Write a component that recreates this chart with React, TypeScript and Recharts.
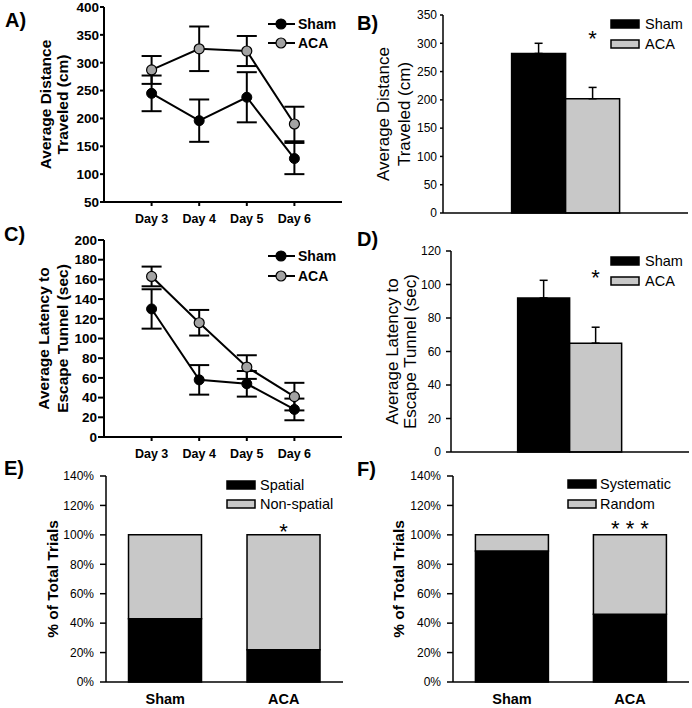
import React from "react";
import {
  LineChart,
  Line,
  BarChart,
  Bar,
  XAxis,
  YAxis,
  ErrorBar,
  Legend,
  Label,
  LabelList,
} from "recharts";

const FONT = "'Liberation Sans', Arial, sans-serif";
const GREY_BAR = "#c8c8c8";
const GREY_DOT = "#a3a3a3";

// days for the line panels
const days = [3, 4, 5, 6];
const dayLabels = ["Day 3", "Day 4", "Day 5", "Day 6"];

// A) distance per day
const distSham = [245, 196, 238, 128];
const distShamErr = [32, 38, 45, 28];
const distAca = [287, 325, 321, 190];
const distAcaErr = [25, 40, 27, 31];

// C) latency per day
const latSham = [130, 58, 54, 28];
const latShamErr = [20, 15, 13, 11];
const latAca = [163, 116, 71, 41];
const latAcaErr = [10, 13, 12, 14];

// B) / D) group means (upper error only)
const groups = ["Sham", "ACA"];
const distTotal = [282, 202];
const distTotalErr = [18, 20];
const latTotal = [92, 65];
const latTotalErr = [10.5, 9.5];

// E) / F) search strategy, % of trials
const spatial = [43, 22];
const nonSpatial = [57, 78];
const systematic = [89, 46];
const random = [11, 54];
const sigE = ["", "*"];
const sigF = ["", "* * *"];

const lineA = days.map((d, i) => ({
  day: d,
  sham: distSham[i],
  shamErr: distShamErr[i],
  aca: distAca[i],
  acaErr: distAcaErr[i],
}));
const lineC = days.map((d, i) => ({
  day: d,
  sham: latSham[i],
  shamErr: latShamErr[i],
  aca: latAca[i],
  acaErr: latAcaErr[i],
}));
const barB = [
  { g: "", sham: distTotal[0], shamErr: [0, distTotalErr[0]], aca: distTotal[1], acaErr: [0, distTotalErr[1]], sig: "*" },
];
const barD = [
  { g: "", sham: latTotal[0], shamErr: [0, latTotalErr[0]], aca: latTotal[1], acaErr: [0, latTotalErr[1]], sig: "*" },
];
const stackE = groups.map((g, i) => ({ g, low: spatial[i], high: nonSpatial[i], sig: sigE[i] }));
const stackF = groups.map((g, i) => ({ g, low: systematic[i], high: random[i], sig: sigF[i] }));

const range = (a: number, b: number, s: number) => {
  const out: number[] = [];
  for (let v = a; v <= b; v += s) out.push(v);
  return out;
};

const YTitle = ({ viewBox, lines, xs, size, bold }: any) => {
  const cy = viewBox.y + viewBox.height / 2;
  return (
    <g>
      {lines.map((t: string, i: number) => (
        <text
          key={i}
          x={xs[i]}
          y={cy}
          transform={`rotate(-90 ${xs[i]} ${cy})`}
          textAnchor="middle"
          dominantBaseline="central"
          fontSize={size}
          fontWeight={bold ? "bold" : "normal"}
          fontFamily={FONT}
          fill="#000"
        >
          {t}
        </text>
      ))}
    </g>
  );
};

const LineKey = ({ fills, step }: { fills: string[]; step: number }) => (
  <svg width={80} height={44} style={{ display: "block", overflow: "visible" }}>
    {groups.map((name, i) => {
      const y = 10 + i * step;
      return (
        <g key={name}>
          <line x1={2} x2={29} y1={y} y2={y} stroke="#000" strokeWidth={2} />
          <circle cx={15} cy={y} r={5} fill={fills[i]} stroke="#000" strokeWidth={1.2} />
          <text x={32} y={y} dominantBaseline="central" fontSize={14} fontWeight="bold" fontFamily={FONT}>
            {name}
          </text>
        </g>
      );
    })}
  </svg>
);

const BoxKey = ({ names, step, textX }: { names: string[]; step: number; textX: number }) => (
  <svg width={120} height={44} style={{ display: "block", overflow: "visible" }}>
    {names.map((name, i) => {
      const y = 10 + i * step;
      return (
        <g key={name}>
          <rect x={0} y={y - 4} width={28} height={8} fill={i === 0 ? "#000" : GREY_BAR} stroke="#000" strokeWidth={1.5} />
          <text x={textX} y={y} dominantBaseline="central" fontSize={14.5} fontFamily={FONT}>
            {name}
          </text>
        </g>
      );
    })}
  </svg>
);

const starFixed = (cy: number, size: number) => (p: any) => {
  if (!p.value) return null;
  return (
    <text x={p.x + p.width / 2} y={cy + size * 0.57} textAnchor="middle" fontSize={size} fontFamily={FONT} fill="#000">
      {p.value}
    </text>
  );
};

const starAbove = (gap: number, size: number) => (p: any) => {
  if (!p.value) return null;
  return (
    <text x={p.x + p.width / 2} y={p.y - gap + size * 0.57} textAnchor="middle" fontSize={size} fontFamily={FONT} fill="#000">
      {p.value}
    </text>
  );
};

function DayPanel({ data, height, domain, step, tickSize, lines, xs, top, legendTop, legendStep }: any) {
  const yTicks = range(domain[0], domain[1], step);
  return (
    <LineChart width={346} height={height} data={data} margin={{ top, right: 4, bottom: 0, left: 0 }}>
      <XAxis
        dataKey="day"
        type="number"
        domain={[2, 7]}
        ticks={days}
        interval={0}
        tickFormatter={(d: number) => dayLabels[days.indexOf(d)]}
        height={33}
        stroke="#000"
        strokeWidth={2}
        tickSize={4}
        tickMargin={8}
        tick={{ fill: "#000", fontSize: 12.5, fontWeight: "bold", fontFamily: FONT }}
      />
      <XAxis xAxisId="top" orientation="top" type="number" domain={[2, 7]} height={0} tick={false} tickLine={false} stroke="#000" strokeWidth={2} />
      <YAxis
        domain={domain}
        ticks={yTicks}
        interval={0}
        width={104}
        stroke="#000"
        strokeWidth={2}
        tickSize={tickSize}
        tickMargin={1}
        tick={{ fill: "#000", fontSize: 13.5, fontWeight: "bold", fontFamily: FONT }}
      >
        <Label content={(p: any) => <YTitle viewBox={p.viewBox} lines={lines} xs={xs} size={15.5} bold />} />
      </YAxis>
      <YAxis yAxisId="right" orientation="right" domain={[0, 1]} width={0} tick={false} tickLine={false} stroke="#000" strokeWidth={2} />
      <Legend
        layout="horizontal"
        verticalAlign="middle"
        align="center"
        wrapperStyle={{ top: legendTop, left: 266, width: 80, height: 44 }}
        content={() => <LineKey fills={["#000", GREY_DOT]} step={legendStep} />}
      />
      <Line dataKey="sham" stroke="#000" strokeWidth={2} dot={{ r: 5, fill: "#000", stroke: "#000", strokeWidth: 1 }} isAnimationActive={false}>
        <ErrorBar dataKey="shamErr" width={10} stroke="#000" strokeWidth={2} direction="y" />
      </Line>
      <Line dataKey="aca" stroke="#000" strokeWidth={2} dot={{ r: 5, fill: GREY_DOT, stroke: "#000", strokeWidth: 1.2 }} isAnimationActive={false}>
        <ErrorBar dataKey="acaErr" width={10} stroke="#000" strokeWidth={2} direction="y" />
      </Line>
    </LineChart>
  );
}

function MeanPanel({ data, domain, step, top, axisW, right, xh, tickSize, tickMargin, lines, xs, legendTop, starY }: any) {
  return (
    <BarChart width={346} height={235} data={data} margin={{ top, right, bottom: 0, left: 0 }} barCategoryGap="28%" barGap={0}>
      <XAxis dataKey="g" height={xh} tick={false} tickLine={false} stroke="#000" strokeWidth={1.5} />
      <XAxis xAxisId="top" dataKey="g" orientation="top" height={0} tick={false} tickLine={false} stroke="#000" strokeWidth={1.5} />
      <YAxis
        domain={domain}
        ticks={range(domain[0], domain[1], step)}
        interval={0}
        width={axisW}
        stroke="#000"
        strokeWidth={1.5}
        tickSize={tickSize}
        tickMargin={tickMargin}
        tick={{ fill: "#000", fontSize: 12, fontFamily: FONT }}
      >
        <Label content={(p: any) => <YTitle viewBox={p.viewBox} lines={lines} xs={xs} size={17} />} />
      </YAxis>
      <YAxis yAxisId="right" orientation="right" domain={[0, 1]} width={0} tick={false} tickLine={false} stroke="#000" strokeWidth={1.5} />
      <Legend
        layout="horizontal"
        verticalAlign="middle"
        align="center"
        wrapperStyle={{ top: legendTop, left: 265, width: 80, height: 44 }}
        content={() => <BoxKey names={groups} step={20} textX={34} />}
      />
      <Bar dataKey="sham" fill="#000" stroke="#000" strokeWidth={1.5} isAnimationActive={false}>
        <ErrorBar dataKey="shamErr" width={4} stroke="#000" strokeWidth={1.5} />
      </Bar>
      <Bar dataKey="aca" fill={GREY_BAR} stroke="#000" strokeWidth={1.5} isAnimationActive={false}>
        <ErrorBar dataKey="acaErr" width={4} stroke="#000" strokeWidth={1.5} />
        <LabelList dataKey="sig" content={starFixed(starY, 22)} />
      </Bar>
    </BarChart>
  );
}

function StackPanel({ data, names, axisW, legendLeft, legendTop, legendStep, textX, gap }: any) {
  return (
    <BarChart width={346} height={238} data={data} margin={{ top: 6, right: 3, bottom: 0, left: 0 }} barCategoryGap="19%">
      <XAxis
        dataKey="g"
        height={26}
        tickLine={false}
        tickSize={0}
        tickMargin={12}
        stroke="#000"
        strokeWidth={1.5}
        tick={{ fill: "#000", fontSize: 14.5, fontWeight: "bold", fontFamily: FONT }}
      />
      <XAxis xAxisId="top" dataKey="g" orientation="top" height={0} tick={false} tickLine={false} stroke="#000" strokeWidth={1.5} />
      <YAxis
        domain={[0, 140]}
        ticks={range(0, 140, 20)}
        interval={0}
        tickFormatter={(v: number) => `${v}%`}
        width={axisW}
        stroke="#000"
        strokeWidth={1.5}
        tickSize={6}
        tickMargin={6}
        tick={{ fill: "#000", fontSize: 12, fontFamily: FONT }}
      >
        <Label content={(p: any) => <YTitle viewBox={p.viewBox} lines={["% of Total Trials"]} xs={[52]} size={15.5} bold />} />
      </YAxis>
      <YAxis yAxisId="right" orientation="right" domain={[0, 1]} width={0} tick={false} tickLine={false} stroke="#000" strokeWidth={1.5} />
      <Legend
        layout="horizontal"
        verticalAlign="middle"
        align="center"
        wrapperStyle={{ top: legendTop, left: legendLeft, width: 120, height: 44 }}
        content={() => <BoxKey names={names} step={legendStep} textX={textX} />}
      />
      <Bar dataKey="low" stackId="s" fill="#000" stroke="#000" strokeWidth={1.5} isAnimationActive={false} />
      <Bar dataKey="high" stackId="s" fill={GREY_BAR} stroke="#000" strokeWidth={1.5} isAnimationActive={false}>
        <LabelList dataKey="sig" content={starAbove(gap, 22)} />
      </Bar>
    </BarChart>
  );
}

const panelLetters = [
  { t: "A)", x: 5, y: 27 },
  { t: "B)", x: 357, y: 30 },
  { t: "C)", x: 4, y: 241 },
  { t: "D)", x: 357, y: 246 },
  { t: "E)", x: 4, y: 475 },
  { t: "F)", x: 357, y: 476 },
];

export default function App() {
  const box = (left: number, top: number): React.CSSProperties => ({ position: "absolute", left, top });
  return (
    <div style={{ position: "absolute", left: 0, top: 0, width: 692, height: 708, background: "#fff", overflow: "hidden", fontFamily: FONT }}>
      <div style={box(0, 0)}>
        <DayPanel
          data={lineA}
          height={235}
          domain={[50, 400]}
          step={50}
          tickSize={4}
          lines={["Average Distance", "Traveled (cm)"]}
          xs={[45, 62]}
          top={7}
          legendTop={14}
          legendStep={19}
        />
      </div>
      <div style={box(346, 0)}>
        <MeanPanel
          data={barB}
          domain={[0, 350]}
          step={50}
          top={15}
          axisW={97}
          right={4}
          xh={22}
          tickSize={3}
          tickMargin={3}
          lines={["Average Distance", "Traveled (cm)"]}
          xs={[37, 58]}
          legendTop={14}
          starY={33}
        />
      </div>
      <div style={box(0, 229)}>
        <DayPanel
          data={lineC}
          height={241}
          domain={[0, 200]}
          step={20}
          tickSize={6}
          lines={["Average Latency to", "Escape Tunnel (sec)"]}
          xs={[43, 62]}
          top={11}
          legendTop={17}
          legendStep={20}
        />
      </div>
      <div style={box(346, 235)}>
        <MeanPanel
          data={barD}
          domain={[0, 120]}
          step={20}
          top={16}
          axisW={105}
          right={3}
          xh={18}
          tickSize={5}
          tickMargin={5}
          lines={["Average Latency to", "Escape Tunnel (sec)"]}
          xs={[46, 64]}
          legendTop={16}
          starY={37}
        />
      </div>
      <div style={box(0, 470)}>
        <StackPanel data={stackE} names={["Spatial", "Non-spatial"]} axisW={106} legendLeft={227} legendTop={5} legendStep={19} textX={33} gap={8} />
      </div>
      <div style={box(346, 470)}>
        <StackPanel data={stackF} names={["Systematic", "Random"]} axisW={107} legendLeft={222} legendTop={4} legendStep={20} textX={32} gap={11} />
      </div>
      <svg width={692} height={708} style={{ position: "absolute", left: 0, top: 0, pointerEvents: "none" }}>
        {panelLetters.map((l) => (
          <text key={l.t} x={l.x} y={l.y} fontSize={20} fontWeight="bold" fontFamily={FONT} fill="#000">
            {l.t}
          </text>
        ))}
      </svg>
    </div>
  );
}
